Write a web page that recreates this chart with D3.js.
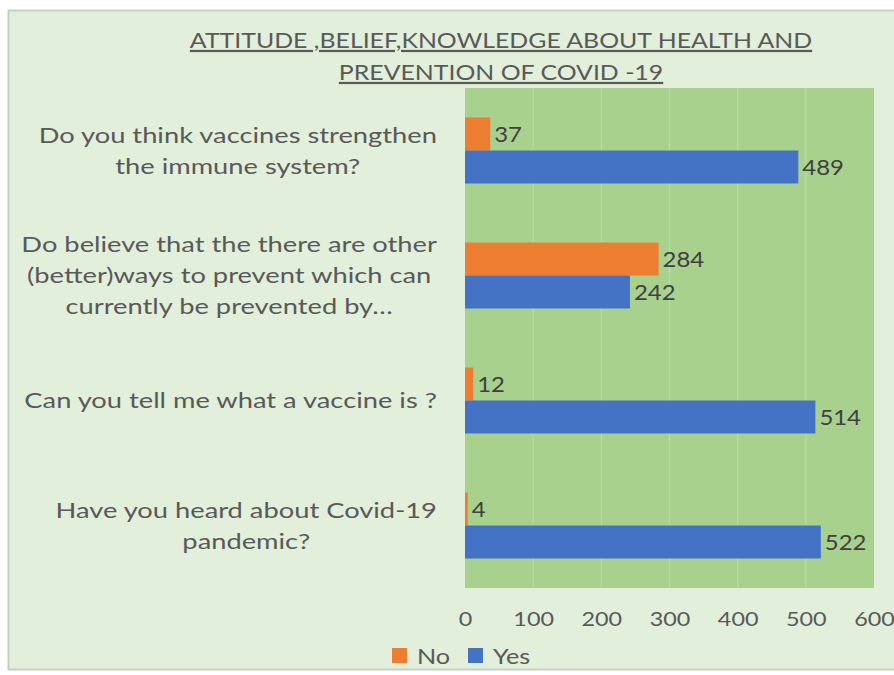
<!DOCTYPE html>
<html>
<head>
<meta charset="utf-8">
<script src="https://cdn.jsdelivr.net/npm/d3@7"></script>
<style>
  html, body { margin: 0; padding: 0; background: #ffffff; }
  svg { display: block; }
</style>
</head>
<body>
<svg id="chart" width="894" height="675"></svg>
<script>
// ---- data ----
const titleLines = ["ATTITUDE ,BELIEF,KNOWLEDGE ABOUT HEALTH AND", "PREVENTION OF COVID -19"];
const categories = ["Q1", "Q2", "Q3", "Q4"];
const categoryLines = [
  ["Do you think vaccines strengthen", "the immune system?"],
  ["Do believe that the there are other", "(better)ways to prevent which can", "currently be prevented by…"],
  ["Can you tell me what a vaccine is ?"],
  ["Have you heard about Covid-19", "pandemic?"]
];
const seriesNames = ["No", "Yes"];
const noValues = [37, 284, 12, 4];
const yesValues = [489, 242, 514, 522];
const xTicks = [0, 100, 200, 300, 400, 500, 600];
const seriesColors = ["#ED7D31", "#4472C4"];

// ---- layout ----
const svg = d3.select("#chart");
const W = 894, H = 675;
const plot = { left: 465, right: 874, top: 88, bottom: 588 };
const font = "Lato, 'Open Sans', sans-serif";

// outer chart area
svg.append("rect").attr("x", 0).attr("y", 0).attr("width", W).attr("height", H).attr("fill", "#ffffff");
svg.append("rect").attr("x", 8.5).attr("y", 10.5).attr("width", W).attr("height", 659)
  .attr("fill", "#e2efda").attr("stroke", "#c6cfc0").attr("stroke-width", 2);

const x = d3.scaleLinear().domain([0, 600]).range([plot.left, plot.right]);
const y = d3.scaleBand().domain(categories).range([plot.top, plot.bottom]).paddingInner(0.472).paddingOuter(0.236);
const ys = d3.scaleBand().domain(seriesNames).range([0, y.bandwidth()]);

// plot area
svg.append("rect").attr("x", plot.left).attr("y", plot.top)
  .attr("width", plot.right - plot.left).attr("height", plot.bottom - plot.top)
  .attr("fill", "#a9d18e");

// gridlines
svg.append("g").selectAll("line").data(xTicks.slice(1, -1)).join("line")
  .attr("x1", d => x(d)).attr("x2", d => x(d))
  .attr("y1", plot.top).attr("y2", plot.bottom)
  .attr("stroke", "#b9dba2").attr("stroke-width", 1.2);

// bars
const rows = categories.map((c, i) => ({ cat: c, values: [noValues[i], yesValues[i]] }));
const groups = svg.append("g").selectAll("g").data(rows).join("g")
  .attr("transform", d => `translate(0,${y(d.cat)})`);
groups.selectAll("rect").data(d => d.values.map((v, k) => ({ v, k }))).join("rect")
  .attr("x", x(0))
  .attr("y", d => ys(seriesNames[d.k]))
  .attr("width", d => x(d.v) - x(0))
  .attr("height", ys.bandwidth())
  .attr("fill", d => seriesColors[d.k]);
groups.selectAll("text").data(d => d.values.map((v, k) => ({ v, k }))).join("text")
  .attr("transform", d => `translate(${x(d.v) + 4},${ys(seriesNames[d.k]) + ys.bandwidth() / 2}) scale(1.14,1)`)
  .attr("dy", "0.36em")
  .attr("font-family", font).attr("font-size", 21)
  .attr("fill", "#404040")
  .text(d => d.v);

// x axis labels
const xAxis = d3.axisBottom(x).tickValues(xTicks).tickSize(0).tickPadding(0);
const gx = svg.append("g").attr("transform", `translate(0,${plot.bottom + 31})`).call(xAxis);
gx.select(".domain").remove();
gx.selectAll("text").attr("font-family", font).attr("font-size", 20).attr("fill", "#595959")
  .attr("y", 0).attr("dy", "0.36em").attr("transform", "scale(1.17,1)");

// category labels (multi-line, centered within block, block right-aligned)
const labelRight = 437, lineH = 31, labelSx = 1.3;
categories.forEach((c, i) => {
  const lines = categoryLines[i];
  const cy = y(c) + y.bandwidth() / 2;
  const g = svg.append("g");
  const texts = g.selectAll("text").data(lines).join("text")
    .attr("font-family", font).attr("font-size", 21).attr("fill", "#595959")
    .attr("text-anchor", "middle")
    .attr("x", 0)
    .attr("y", (d, j) => (j - (lines.length - 1) / 2) * lineH)
    .attr("dy", "0.36em")
    .text(d => d);
  let maxW = 0;
  texts.each(function () { maxW = Math.max(maxW, this.getComputedTextLength()); });
  g.attr("transform", `translate(${labelRight - maxW * labelSx / 2},${cy}) scale(${labelSx},1)`);
});

// title
titleLines.forEach((t, j) => {
  svg.append("text")
    .attr("transform", `translate(501,${48 + j * 32}) scale(1.13,1)`)
    .attr("text-anchor", "middle")
    .attr("font-family", font).attr("font-size", 22).attr("fill", "#595959")
    .attr("text-decoration", "underline")
    .text(t);
});

// legend
const legend = svg.append("g");
const legendItems = [{ name: "No", x: 392 }, { name: "Yes", x: 468 }];
legendItems.forEach((it, k) => {
  legend.append("rect").attr("x", it.x).attr("y", 648).attr("width", 15).attr("height", 15).attr("fill", seriesColors[k]);
  legend.append("text").attr("transform", `translate(${it.x + 25},656) scale(1.2,1)`).attr("dy", "0.36em")
    .attr("font-family", font).attr("font-size", 21).attr("fill", "#595959").text(it.name);
});
</script>
</body>
</html>
